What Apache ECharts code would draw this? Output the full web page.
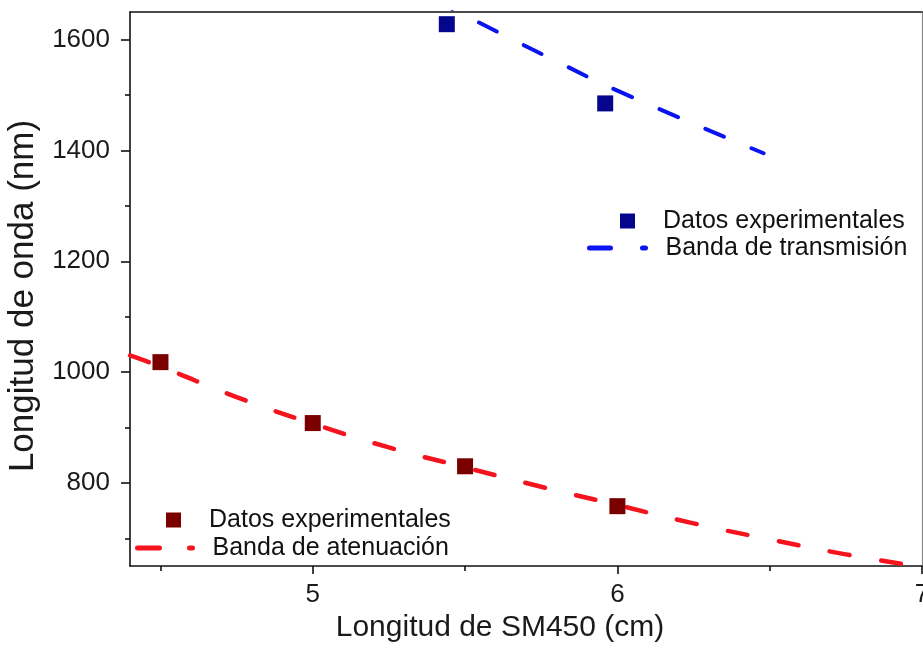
<!DOCTYPE html>
<html>
<head>
<meta charset="utf-8">
<script src="https://cdn.jsdelivr.net/npm/echarts@6/dist/echarts.min.js"></script>
<style>html,body{margin:0;padding:0;background:#fff}#c{width:923px;height:664px}</style>
</head>
<body>
<div id="c"></div>
<script>
// ---- data ----
const xMajorTicks = [5, 6, 7];
const xMinorTicks = [4.5, 5.5, 6.5];
const yMajorTicks = [800, 1000, 1200, 1400, 1600];
const yMinorTicks = [700, 900, 1100, 1300, 1500];
const transExp = [[5.44, 1628], [5.96, 1485]];
const transBand = [[5.40, 1672], [5.65, 1602], [5.80, 1561], [6.00, 1508], [6.48, 1395]];
const atenExp = [[4.5, 1018], [5.0, 908], [5.5, 830], [6.0, 758]];
const atenBand = [[4.4, 1030], [4.5, 1010], [4.75, 955], [5.0, 907], [5.25, 864], [5.5, 828],
                  [5.75, 793], [6.0, 760], [6.25, 727], [6.5, 698], [6.75, 671], [7.0, 648]];

const FONT = '"Liberation Sans", Arial, sans-serif';
const AX = { color: '#111', width: 1.6 };
const xMin = 4.4, xMax = 7, yMin = 650, yMax = 1650;

const chart = echarts.init(document.getElementById('c'), null, { renderer: 'canvas' });
const sq = 'path://M0,0H10V10H0Z';
const hidden = { color: 'rgba(0,0,0,0)', borderWidth: 0, opacity: 0 };
const legBase = {
  orient: 'vertical', padding: 0, itemGap: 0, selectedMode: false,
  textStyle: { fontFamily: FONT, fontSize: 25, color: '#111', lineHeight: 26 },
  lineStyle: { width: 5, cap: 'round' }
};
const sqText = Object.assign({}, legBase.textStyle, { padding: [0, 0, 0, 23] });
chart.setOption({
  backgroundColor: '#fff',
  animation: false,
  grid: { left: 130, top: 12, right: 1, bottom: 98, containLabel: false, outerBoundsMode: 'none' },
  legend: [
    Object.assign({}, legBase, { left: 620, top: 208, itemWidth: 15, itemHeight: 15, textStyle: sqText,
      data: [{ name: 'DE_T', icon: sq }], formatter: () => 'Datos experimentales' }),
    Object.assign({}, legBase, { left: 587, top: 235, itemWidth: 71, itemHeight: 15,
      data: [{ name: 'Banda de transmisión', itemStyle: hidden }],
      lineStyle: { width: 5, cap: 'round', type: [21, 32, 3, 100] } }),
    Object.assign({}, legBase, { left: 166, top: 507, itemWidth: 15, itemHeight: 15, textStyle: sqText,
      data: [{ name: 'DE_A', icon: sq }], formatter: () => 'Datos experimentales' }),
    Object.assign({}, legBase, { left: 135, top: 535, itemWidth: 70, itemHeight: 15,
      data: [{ name: 'Banda de atenuación', itemStyle: hidden }],
      lineStyle: { width: 5, cap: 'round', type: [22, 30, 3, 100] } })
  ],
  xAxis: [
    { type: 'value', min: xMin, max: xMax, position: 'bottom',
      axisLine: { show: true, onZero: false, lineStyle: AX },
      axisTick: { show: true, customValues: xMajorTicks, length: 8, lineStyle: AX },
      axisLabel: { customValues: xMajorTicks, fontFamily: FONT, fontSize: 26, color: '#1a1a1a', margin: 16,
                   formatter: v => String(v) },
      splitLine: { show: false },
      name: 'Longitud de SM450 (cm)', nameLocation: 'middle', nameGap: 37,
      nameTextStyle: { fontFamily: FONT, fontSize: 30, color: '#1a1a1a', padding: [0, 52, 0, 0] } },
    { type: 'value', min: xMin, max: xMax, position: 'bottom',
      axisLine: { show: false },
      axisTick: { show: true, customValues: xMinorTicks, length: 5, lineStyle: AX },
      axisLabel: { show: false }, splitLine: { show: false } },
    { type: 'value', min: xMin, max: xMax, position: 'top',
      axisLine: { show: true, onZero: false, lineStyle: AX },
      axisTick: { show: false }, axisLabel: { show: false }, splitLine: { show: false } }
  ],
  yAxis: [
    { type: 'value', min: yMin, max: yMax, position: 'left',
      axisLine: { show: true, onZero: false, lineStyle: AX },
      axisTick: { show: true, customValues: yMajorTicks, length: 9, lineStyle: AX },
      axisLabel: { customValues: yMajorTicks, fontFamily: FONT, fontSize: 26, color: '#1a1a1a', margin: 20,
                   formatter: v => String(v) },
      splitLine: { show: false },
      name: 'Longitud de onda (nm)', nameLocation: 'middle', nameGap: 79,
      nameTextStyle: { fontFamily: FONT, fontSize: 35, color: '#1a1a1a', padding: [0, 14, 0, 0] } },
    { type: 'value', min: yMin, max: yMax, position: 'left',
      axisLine: { show: false },
      axisTick: { show: true, customValues: yMinorTicks, length: 5, lineStyle: AX },
      axisLabel: { show: false }, splitLine: { show: false } },
    { type: 'value', min: yMin, max: yMax, position: 'right',
      axisLine: { show: true, onZero: false, lineStyle: { color: '#888', width: 1.2 } },
      axisTick: { show: false }, axisLabel: { show: false }, splitLine: { show: false } }
  ],
  series: [
    { name: 'Banda de transmisión', type: 'line', data: transBand, smooth: true, symbol: 'none',
      lineStyle: { color: '#0a14f0', width: 4, type: [20, 30], cap: 'round' }, itemStyle: { color: '#0a14f0' }, z: 2 },
    { name: 'DE_T', type: 'scatter', data: transExp, symbol: 'rect', symbolSize: 16,
      itemStyle: { color: '#06068c', opacity: 1 }, z: 3 },
    { name: 'Banda de atenuación', type: 'line', data: atenBand, smooth: true, symbol: 'none',
      lineStyle: { color: '#f5141e', width: 4.5, type: [20, 32], cap: 'round' }, itemStyle: { color: '#f5141e' }, z: 2 },
    { name: 'DE_A', type: 'scatter', data: atenExp, symbol: 'rect', symbolSize: 16,
      itemStyle: { color: '#7a0000', opacity: 1 }, z: 3 }
  ]
});
</script>
</body>
</html>
